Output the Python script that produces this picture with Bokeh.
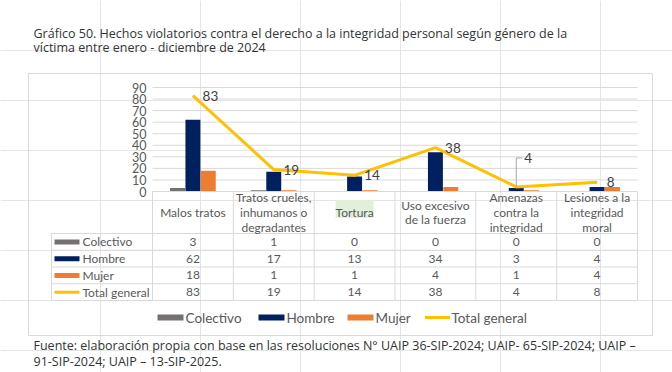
import numpy as np
from bokeh.plotting import figure
from bokeh.models import Range1d
from bokeh.core.properties import value
from bokeh.embed import file_html
from bokeh.resources import INLINE

# ---------------- data ----------------
title_lines = ["Gráfico 50. Hechos violatorios contra el derecho a la integridad personal según género de la",
               "víctima entre enero - diciembre de 2024"]
source_lines = ["Fuente: elaboración propia con base en las resoluciones N° UAIP 36-SIP-2024; UAIP- 65-SIP-2024; UAIP –",
                "91-SIP-2024; UAIP – 13-SIP-2025."]
categories = ["Malos tratos",
              "Tratos crueles,\ninhumanos o\ndegradantes",
              "Tortura",
              "Uso excesivo\nde la fuerza",
              "Amenazas\ncontra la\nintegridad",
              "Lesiones a la\nintegridad\nmoral"]
colectivo = [3, 1, 0, 0, 0, 0]
hombre = [62, 17, 13, 34, 3, 4]
mujer = [18, 1, 1, 4, 1, 4]
total_general = [83, 19, 14, 38, 4, 8]
series_names = ["Colectivo", "Hombre", "Mujer", "Total general"]
y_ticks = [0, 10, 20, 30, 40, 50, 60, 70, 80, 90]

# ---------------- style ----------------
C_COL, C_HOM, C_MUJ, C_TOT = "#767171", "#002060", "#ED7D31", "#FFC000"
GRID = "#D9D9D9"
TXT = "#595959"
FONT = value("Lato")
FONT_T = value("Open Sans")

W, H = 672, 372
# plot-area geometry in canvas pixels (y down)
PX_L, PX_R = 152, 637
PY_0, PY_90 = 191, 87
n = len(categories)
cw = (PX_R - PX_L) / n
cat_start = -0.5 - PX_L / cw
cat_end = -0.5 + (W - PX_L) / cw
vpp = 90 / (PY_0 - PY_90)
val_start = (PY_0 - H) * vpp
val_end = PY_0 * vpp

p = figure(width=W, height=H, x_range=Range1d(0, W), y_range=Range1d(H, 0),
           min_border=0, x_axis_location=None, y_axis_location=None,
           toolbar_location=None, output_backend="svg", outline_line_color=None,
           background_fill_color="white", border_fill_color="white")
p.extra_x_ranges = {"cat": Range1d(cat_start, cat_end)}
p.extra_y_ranges = {"val": Range1d(val_start, val_end)}

idx = np.arange(n)

# title
p.text(x=[33, 33], y=[33, 47], text=title_lines, text_font=FONT_T, text_font_size="12.5px",
       text_color="#333333", text_baseline="middle", text_align="left")

# outer chart box
p.quad(left=[28], right=[652], top=[73], bottom=[335], fill_color=None, line_color=GRID, line_width=1)

# gridlines
gt = [t for t in y_ticks if t > 0]
p.segment(x0=[-0.5] * len(gt), x1=[n - 0.5] * len(gt), y0=gt, y1=gt, line_color=GRID, line_width=1,
          x_range_name="cat", y_range_name="val")
# y tick labels
p.text(x=[146] * len(y_ticks), y=y_ticks, text=[str(t) for t in y_ticks], y_range_name="val",
       text_font=FONT, text_font_size="12.5px", text_color=TXT, text_align="right", text_baseline="middle")

# bars
bw = 0.185
off = 0.19
for vals, dx, col in [(colectivo, -off, C_COL), (hombre, 0, C_HOM), (mujer, off, C_MUJ)]:
    p.vbar(x=idx + dx, top=vals, bottom=0, width=bw, fill_color=col, line_color=None,
           x_range_name="cat", y_range_name="val")

# total line
p.line(x=idx, y=total_general, line_color=C_TOT, line_width=3, x_range_name="cat", y_range_name="val")

# data labels (one with leader line)
raise_units = [0, 0, 0, 0, 25, 0]
lab_y = [v + r for v, r in zip(total_general, raise_units)]
lab_dx = [0.12 if r == 0 else 0.1 for r in raise_units]
p.text(x=idx + np.array(lab_dx), y=lab_y, text=[str(v) for v in total_general],
       text_font=FONT, text_font_size="13.5px", text_color="#404040", text_baseline="middle",
       text_align="left", x_range_name="cat", y_range_name="val")
for i, r in enumerate(raise_units):
    if r:
        p.line(x=[i, i, i + 0.075], y=[total_general[i], total_general[i] + r, total_general[i] + r],
               line_color="#A6A6A6", line_width=1, x_range_name="cat", y_range_name="val")

# ---------------- data table ----------------
row_edges = [233, 249.75, 266.5, 283.25, 300]
tbl_left = 51
# header top line (at value 0)
p.segment(x0=[-0.5], x1=[n - 0.5], y0=[0], y1=[0], line_color=GRID, line_width=1,
          x_range_name="cat", y_range_name="val")
# horizontal row lines
p.segment(x0=[tbl_left] * len(row_edges), x1=[PX_R] * len(row_edges), y0=row_edges, y1=row_edges,
          line_color=GRID, line_width=1)
# vertical column lines
vx = list(np.arange(n + 1) - 0.5)
p.segment(x0=vx, x1=vx, y0=[PY_0] * len(vx), y1=[row_edges[-1]] * len(vx), line_color=GRID, line_width=1,
          x_range_name="cat")
p.segment(x0=[tbl_left], x1=[tbl_left], y0=[row_edges[0]], y1=[row_edges[-1]], line_color=GRID, line_width=1)

# Tortura highlight
p.rect(x=[2], y=[208.5], width=0.47, height=18, fill_color="#E2F0D9", line_color=None, x_range_name="cat")

# header texts
p.text(x=idx, y=[212] * n, text=categories, text_font=FONT, text_font_size="12px", text_color=TXT,
       text_align="center", text_baseline="middle", text_line_height=0.98, x_range_name="cat")

# rows
series_vals = [colectivo, hombre, mujer, total_general]
row_mid = [(row_edges[i] + row_edges[i + 1]) / 2 for i in range(4)]
for r, vals in enumerate(series_vals):
    p.text(x=idx, y=[row_mid[r]] * n, text=[str(v) for v in vals], text_font=FONT, text_font_size="12px",
           text_color=TXT, text_align="center", text_baseline="middle", x_range_name="cat")
p.text(x=[82] * 4, y=row_mid, text=series_names, text_font=FONT, text_font_size="12px",
       text_color=TXT, text_align="left", text_baseline="middle")
sw_cols = [C_COL, C_HOM, C_MUJ]
p.rect(x=[66.5] * 3, y=row_mid[:3], width=25, height=5, fill_color=sw_cols, line_color=None)
p.rect(x=[66.5], y=[row_mid[3]], width=25, height=3, fill_color=C_TOT, line_color=None)

# ---------------- bottom legend ----------------
leg_y = 317
leg_sw_x = [157, 258, 347]
leg_txt_x = [185, 286, 375, 451]
p.rect(x=[x + 13 for x in leg_sw_x], y=[leg_y] * 3, width=26, height=6, fill_color=sw_cols, line_color=None)
p.rect(x=[437], y=[leg_y], width=25, height=3, fill_color=C_TOT, line_color=None)
p.text(x=leg_txt_x, y=[leg_y] * 4, text=series_names, text_font=FONT, text_font_size="13.5px",
       text_color=TXT, text_align="left", text_baseline="middle")

# source
p.text(x=[33, 33], y=[345, 361], text=source_lines, text_font=FONT_T, text_font_size="12.5px",
       text_color="#333333", text_baseline="middle", text_align="left")

open("out.html", "w").write(file_html(p, INLINE))
